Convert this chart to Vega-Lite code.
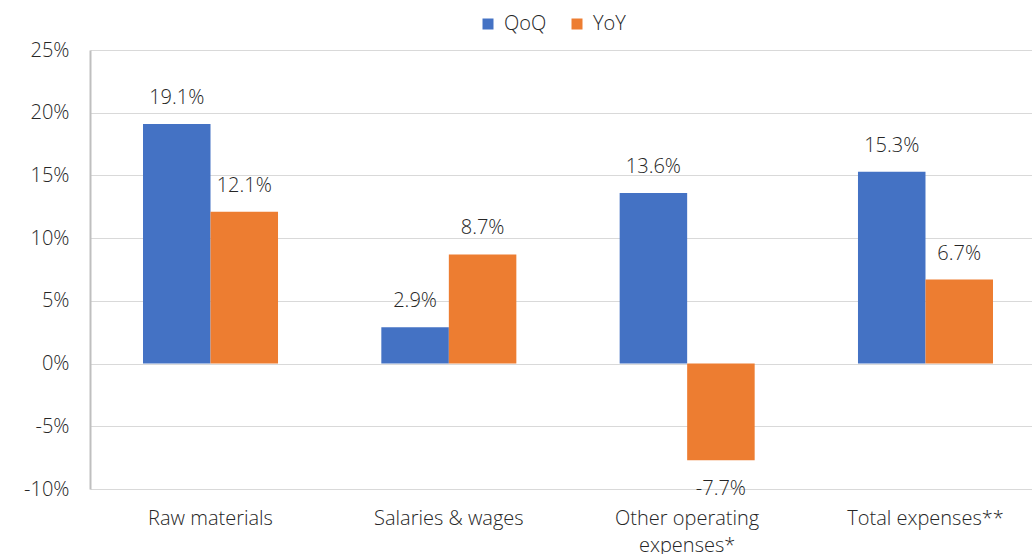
{
  "$schema": "https://vega.github.io/schema/vega-lite/v6.json",
  "width": 956,
  "height": 439,
  "autosize": {"type": "none"},
  "padding": {"left": 90, "top": 50, "right": 0, "bottom": 65},
  "background": "white",
  "config": {
    "locale": {"number": {"decimal": ".", "thousands": ",", "grouping": [3], "currency": ["$", ""], "minus": "-"}},
    "view": {"stroke": null},
    "font": "Open Sans",
    "axis": {"labelFont": "Open Sans", "labelFontWeight": 300, "labelColor": "#262626", "labelFontSize": 20, "ticks": false, "gridColor": "#d9d9d9", "domainColor": "#bfbfbf", "domainWidth": 2},
    "legend": {"labelFont": "Open Sans", "labelFontWeight": 300, "labelColor": "#262626", "labelFontSize": 20}
  },
  "data": {
    "values": [
      {"category": "Raw materials", "series": "QoQ", "v": 0.191},
      {"category": "Raw materials", "series": "YoY", "v": 0.121},
      {"category": "Salaries & wages", "series": "QoQ", "v": 0.029},
      {"category": "Salaries & wages", "series": "YoY", "v": 0.087},
      {"category": "Other operating expenses*", "series": "QoQ", "v": 0.136},
      {"category": "Other operating expenses*", "series": "YoY", "v": -0.077},
      {"category": "Total expenses**", "series": "QoQ", "v": 0.153},
      {"category": "Total expenses**", "series": "YoY", "v": 0.067}
    ]
  },
  "encoding": {
    "x": {
      "field": "category", "type": "nominal", "sort": null, "title": null,
      "scale": {"paddingInner": 0.4335, "paddingOuter": 0.2224},
      "axis": {"labelAngle": 0, "labelPadding": 19, "grid": false, "domain": false, "labelOverlap": false,
        "labelExpr": "datum.value == 'Other operating expenses*' ? ['Other operating', 'expenses*'] : datum.value", "labelLineHeight": 27}
    },
    "xOffset": {"field": "series", "type": "nominal", "scale": {"paddingInner": 0}},
    "y": {
      "field": "v", "type": "quantitative", "title": null,
      "scale": {"domain": [-0.1, 0.25], "nice": false, "zero": false},
      "axis": {"format": ".0%", "values": [-0.1, -0.05, 0, 0.05, 0.1, 0.15, 0.2, 0.25], "labelOverlap": false, "labelPadding": 21, "domain": true}
    }
  },
  "layer": [
    {
      "mark": {"type": "bar"},
      "encoding": {
        "color": {"field": "series", "type": "nominal",
          "scale": {"domain": ["QoQ", "YoY"], "range": ["#4472C4", "#ED7D31"]},
          "legend": {"title": null, "orient": "none", "legendX": 388, "legendY": -36, "direction": "horizontal", "symbolType": "square", "symbolSize": 121, "symbolStrokeWidth": 0, "labelOffset": 6, "columnPadding": 20}
        },
        "y2": {"datum": 0}
      }
    },
    {
      "transform": [{"filter": "datum.v >= 0"}],
      "mark": {"type": "text", "baseline": "middle", "dy": -26, "fontSize": 20, "fontWeight": 300, "color": "#262626", "font": "Open Sans"},
      "encoding": {"text": {"field": "v", "type": "quantitative", "format": ".1%"}}
    },
    {
      "transform": [{"filter": "datum.v < 0"}],
      "mark": {"type": "text", "baseline": "middle", "dy": 29, "fontSize": 20, "fontWeight": 300, "color": "#262626", "font": "Open Sans"},
      "encoding": {"text": {"field": "v", "type": "quantitative", "format": ".1%"}}
    }
  ]
}
